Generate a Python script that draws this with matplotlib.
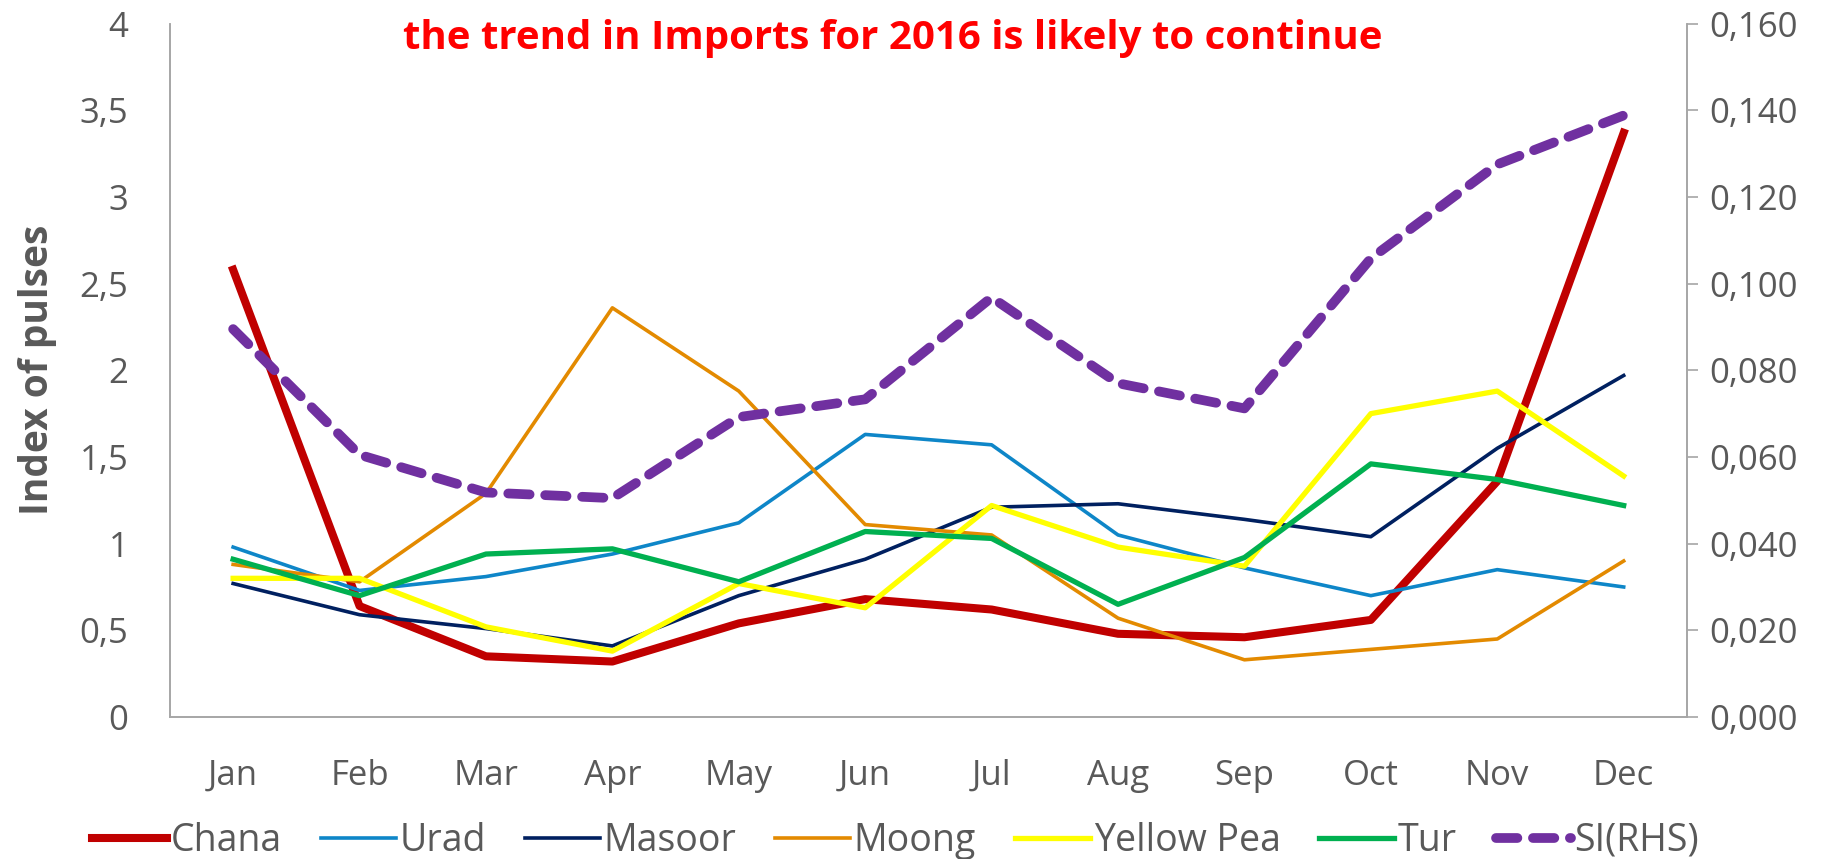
import numpy as np
import matplotlib.pyplot as plt
from matplotlib.ticker import FuncFormatter

months = ['Jan', 'Feb', 'Mar', 'Apr', 'May', 'Jun', 'Jul', 'Aug', 'Sep', 'Oct', 'Nov', 'Dec']

# Index of pulses (left axis)
chana = [2.58, 0.64, 0.35, 0.32, 0.54, 0.68, 0.62, 0.48, 0.46, 0.56, 1.36, 3.37]
urad = [0.98, 0.73, 0.81, 0.94, 1.12, 1.63, 1.57, 1.05, 0.86, 0.70, 0.85, 0.75]
masoor = [0.77, 0.59, 0.51, 0.41, 0.70, 0.91, 1.21, 1.23, 1.14, 1.04, 1.55, 1.97]
moong = [0.88, 0.78, 1.29, 2.36, 1.88, 1.11, 1.05, 0.57, 0.33, 0.39, 0.45, 0.90]
yellow_pea = [0.80, 0.80, 0.52, 0.38, 0.77, 0.63, 1.22, 0.98, 0.87, 1.75, 1.88, 1.39]
tur = [0.91, 0.70, 0.94, 0.97, 0.78, 1.07, 1.03, 0.65, 0.92, 1.46, 1.37, 1.22]

# SI (right axis)
si = [0.0895, 0.0605, 0.0518, 0.0505, 0.0692, 0.0733, 0.0968, 0.0770, 0.0712, 0.1058, 0.1275, 0.1388]

left_ticks = [0, 0.5, 1, 1.5, 2, 2.5, 3, 3.5, 4]
right_ticks = [0, 0.02, 0.04, 0.06, 0.08, 0.10, 0.12, 0.14, 0.16]

plt.rcParams['font.family'] = ['Open Sans', 'DejaVu Sans']
gray = '#595959'
axis_gray = '#A6A6A6'

fig = plt.figure(figsize=(18.43, 8.59), dpi=100)
ax = fig.add_axes([0.0922, 0.1653, 0.8231, 0.8073])
ax2 = ax.twinx()

x = np.arange(len(months))

series = [
    ('Chana', chana, '#C00000', 5.8),
    ('Urad', urad, '#0E86C8', 2.6),
    ('Masoor', masoor, '#002060', 2.6),
    ('Moong', moong, '#E38A00', 2.6),
    ('Yellow Pea', yellow_pea, '#FFFF00', 3.8),
    ('Tur', tur, '#00B050', 3.8),
]
handles = []
for name, vals, color, lw in series:
    h, = ax.plot(x, vals, color=color, lw=lw, label=name, zorder=3)
    handles.append(h)

h_si, = ax2.plot(x, si, color='#7030A0', lw=7, ls=(0, (2.2, 1.6)),
                 dash_capstyle='round', label='SI(RHS)', zorder=4)
handles.append(h_si)

ax.set_xlim(-0.5, 11.5)
ax.set_ylim(0, 4)
ax2.set_ylim(0, 0.16)

ax.set_xticks(x)
ax.set_xticklabels(months)
ax.set_yticks(left_ticks)
ax.yaxis.set_major_formatter(FuncFormatter(lambda v, p: f'{v:g}'.replace('.', ',')))
ax2.set_yticks(right_ticks)
ax2.yaxis.set_major_formatter(FuncFormatter(lambda v, p: f'{v:.3f}'.replace('.', ',')))

for a in (ax, ax2):
    a.spines['top'].set_visible(False)
    for s in ('left', 'right', 'bottom'):
        a.spines[s].set_color(axis_gray)
        a.spines[s].set_linewidth(1.2)

ax.tick_params(axis='x', length=0, pad=30, labelsize=25, labelcolor=gray)
ax.tick_params(axis='y', length=0, pad=30, labelsize=25, labelcolor=gray)
ax2.tick_params(axis='y', length=8, width=1.2, color=axis_gray, pad=8,
                labelsize=25, labelcolor=gray)

ax.set_ylabel('Index of pulses', fontsize=28, fontweight='bold', color=gray, labelpad=16)

fig.text(0.4846, 0.955, 'the trend in Imports for 2016 is likely to continue',
         ha='center', va='center', fontsize=29, fontweight='bold', color='#FF0000')

fig.legend(handles=handles, loc='center', bbox_to_anchor=(0.486, 0.021), ncol=7,
           frameon=False, fontsize=27, labelcolor=gray, handlelength=2.0,
           handletextpad=0.1, columnspacing=1.03, borderaxespad=0)

fig.savefig('out.png', dpi=100)
